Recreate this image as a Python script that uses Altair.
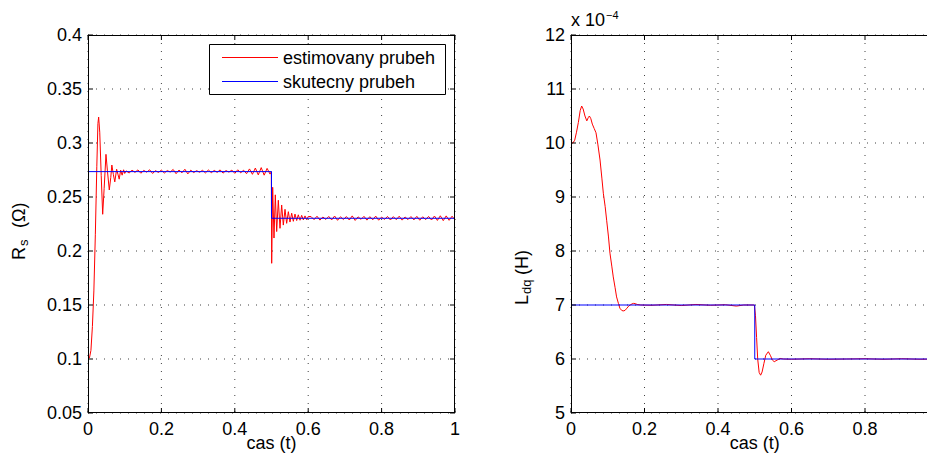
import altair as alt
import pandas as pd

# ---------------- data ----------------
series_names = ["estimovany prubeh", "skutecny prubeh"]
series_colors = ["#ff0000", "#0000ff"]

# left panel: R_s (Ohm), estimated
rs_est_t_start = [0.000, 0.004, 0.008, 0.012, 0.016, 0.020, 0.024, 0.027, 0.029, 0.032,
                  0.036, 0.040, 0.044, 0.049, 0.053, 0.058, 0.062, 0.065, 0.069, 0.073,
                  0.078, 0.082, 0.085, 0.089, 0.093, 0.097, 0.100]
rs_est_v_start = [0.100, 0.101, 0.108, 0.130, 0.163, 0.215, 0.278, 0.318, 0.324, 0.310,
                  0.270, 0.234, 0.258, 0.2895, 0.274, 0.2565, 0.268, 0.2796, 0.271, 0.264,
                  0.2757, 0.2705, 0.2665, 0.2748, 0.2702, 0.2752, 0.2718]
rs_est_t_mid = [0.104, 0.112, 0.120, 0.128, 0.136, 0.144, 0.152, 0.160, 0.168, 0.176,
                0.184, 0.192, 0.200, 0.208, 0.216, 0.224, 0.232, 0.240, 0.248, 0.256,
                0.264, 0.272, 0.280, 0.288, 0.296, 0.304, 0.312, 0.320, 0.328, 0.336,
                0.344, 0.352, 0.360, 0.368, 0.376, 0.384, 0.392, 0.400, 0.408, 0.416,
                0.424, 0.432, 0.440, 0.448, 0.456, 0.464, 0.472, 0.480, 0.488, 0.496]
rs_est_v_mid = [0.2742, 0.2722, 0.2748, 0.2728, 0.2751, 0.2720, 0.2746, 0.2730, 0.2752, 0.2718,
                0.2744, 0.2727, 0.2749, 0.2722, 0.2745, 0.2731, 0.2755, 0.2716, 0.2750, 0.2724,
                0.2757, 0.2714, 0.2748, 0.2726, 0.2744, 0.2729, 0.2747, 0.2723, 0.2750, 0.2725,
                0.2746, 0.2728, 0.2751, 0.2721, 0.2745, 0.2730, 0.2749, 0.2719, 0.2752, 0.2724,
                0.2748, 0.2716, 0.2760, 0.2710, 0.2768, 0.2705, 0.2772, 0.2702, 0.2765, 0.2712]
rs_est_t_step = [0.4995, 0.5005, 0.5032, 0.5068, 0.5104, 0.5141, 0.5186, 0.5232, 0.5277, 0.5322,
                 0.5368, 0.5413, 0.5459, 0.5504, 0.5550, 0.5595, 0.5640, 0.5686, 0.5731, 0.5777,
                 0.5822, 0.5868, 0.5913, 0.5959, 0.6004]
rs_est_v_step = [0.2735, 0.1886, 0.2590, 0.2120, 0.2520, 0.2180, 0.2470, 0.2210, 0.2426, 0.2240,
                 0.2386, 0.2256, 0.2364, 0.2268, 0.2350, 0.2275, 0.2342, 0.2282, 0.2335, 0.2285,
                 0.2330, 0.2288, 0.2325, 0.2290, 0.2320]
rs_est_t_end = [0.608, 0.616, 0.624, 0.632, 0.640, 0.648, 0.656, 0.664, 0.672, 0.680,
                0.688, 0.696, 0.704, 0.712, 0.720, 0.728, 0.736, 0.744, 0.752, 0.760,
                0.768, 0.776, 0.784, 0.792, 0.800, 0.808, 0.816, 0.824, 0.832, 0.840,
                0.848, 0.856, 0.864, 0.872, 0.880, 0.888, 0.896, 0.904, 0.912, 0.920,
                0.928, 0.936, 0.944, 0.952, 0.960, 0.968, 0.976, 0.984, 0.992, 1.000]
rs_est_v_end = [0.2318, 0.2290, 0.2322, 0.2286, 0.2315, 0.2292, 0.2320, 0.2288, 0.2324, 0.2284,
                0.2317, 0.2291, 0.2319, 0.2287, 0.2325, 0.2283, 0.2316, 0.2293, 0.2321, 0.2286,
                0.2318, 0.2289, 0.2323, 0.2285, 0.2314, 0.2292, 0.2320, 0.2287, 0.2318, 0.2290,
                0.2322, 0.2286, 0.2315, 0.2291, 0.2319, 0.2288, 0.2321, 0.2285, 0.2317, 0.2290,
                0.2320, 0.2287, 0.2324, 0.2283, 0.2326, 0.2281, 0.2325, 0.2284, 0.2322, 0.2288]
# left panel: R_s, true
rs_true_t = [0.0, 0.5, 0.5, 1.0]
rs_true_v = [0.2735, 0.2735, 0.2303, 0.2303]

# right panel: L_dq (x 1e-4 H), estimated
ld_est_t = [0.000, 0.005, 0.010, 0.015, 0.020, 0.025, 0.029, 0.033, 0.038, 0.043,
            0.047, 0.050, 0.054, 0.058, 0.063, 0.068, 0.073, 0.079, 0.084, 0.088,
            0.093, 0.097, 0.102, 0.106, 0.111, 0.115, 0.120, 0.124, 0.129, 0.133,
            0.138, 0.142, 0.147, 0.152, 0.157, 0.161, 0.166, 0.170, 0.175, 0.180,
            0.190, 0.220, 0.260, 0.300, 0.340, 0.380, 0.420, 0.450, 0.470, 0.499,
            0.502, 0.505, 0.508, 0.512, 0.516, 0.520, 0.525, 0.530, 0.537, 0.543,
            0.548, 0.553, 0.561, 0.569, 0.578, 0.600, 0.650, 0.700, 0.750, 0.800,
            0.850, 0.900, 0.950, 1.000]
ld_est_v = [10.00, 10.00, 10.05, 10.20, 10.38, 10.60, 10.685, 10.63, 10.50, 10.41,
            10.47, 10.50, 10.45, 10.35, 10.27, 10.19, 9.98, 9.685, 9.35, 9.07,
            8.82, 8.57, 8.26, 7.96, 7.72, 7.52, 7.32, 7.15, 7.03, 6.94,
            6.90, 6.89, 6.90, 6.94, 6.98, 7.00, 7.02, 7.03, 7.025, 7.01,
            7.00, 6.995, 7.01, 6.99, 7.01, 6.995, 7.005, 6.98, 7.00, 7.00,
            6.80, 6.40, 6.00, 5.75, 5.70, 5.76, 5.92, 6.07, 6.135, 6.06,
            5.98, 5.95, 5.98, 6.01, 6.00, 5.995, 6.005, 5.995, 6.00, 6.005,
            5.995, 6.005, 5.995, 6.00]
# right panel: L_dq, true
ld_true_t = [0.0, 0.5, 0.5, 1.0]
ld_true_v = [7.0, 7.0, 6.0, 6.0]

x_ticks = [0, 0.2, 0.4, 0.6, 0.8, 1]
x_tick_labels = ["0", "0.2", "0.4", "0.6", "0.8", "1"]
y_ticks_left = [0.05, 0.1, 0.15, 0.2, 0.25, 0.3, 0.35, 0.4]
y_tick_labels_left = ["0.05", "0.1", "0.15", "0.2", "0.25", "0.3", "0.35", "0.4"]
y_ticks_right = [5, 6, 7, 8, 9, 10, 11, 12]
y_tick_labels_right = ["5", "6", "7", "8", "9", "10", "11", "12"]

x_title = "cas (t)"

# ---------------- layout constants ----------------
FONT = "Liberation Sans"
FS = 18
W, H = 367, 378          # one panel's plot area
RX0 = 483                # left edge of the right panel (relative to left panel)
TOTAL_W = 839            # visible drawing width (right panel cut by the window)
GRID_DASH = [1, 7]

one = pd.DataFrame({"k": [0]})
color_scale = alt.Scale(domain=series_names, range=series_colors)


def frame(t, v, name):
    return pd.DataFrame({"t": t, "v": v, "series": name, "i": list(range(len(t)))})


def txt(text, x, y, size=FS, angle=0, align="left", baseline="alphabetic"):
    kw = dict(text=text, font=FONT, fontSize=size, color="black", align=align, baseline=baseline)
    if angle:
        kw["angle"] = angle
    return alt.Chart(one).mark_text(**kw).encode(x=alt.value(x), y=alt.value(y))


def vrule(x, y0, y1, color="black"):
    return alt.Chart(one).mark_rule(color=color, strokeWidth=1).encode(
        x=alt.value(x), y=alt.value(y0), y2=alt.value(y1))


def hrule(x0, x1, y, color="black"):
    return alt.Chart(one).mark_rule(color=color, strokeWidth=1).encode(
        x=alt.value(x0), x2=alt.value(x1), y=alt.value(y))


def panel_layers(est, true, x_range, ydom, yt, ytl, x0, x1, xt, xtl, right_edge=True):
    xs = alt.Scale(domain=[0, 1], range=x_range, nice=False, zero=False)
    ys = alt.Scale(domain=ydom, nice=False, zero=False)
    X = lambda f: alt.X(f, scale=xs, axis=None)
    Y = lambda f: alt.Y(f, scale=ys, axis=None)
    xt_df = pd.DataFrame({"tick": xt, "label": xtl})
    yt_df = pd.DataFrame({"tick": yt, "label": ytl})
    grid = dict(color="black", strokeWidth=1, strokeDash=GRID_DASH, opacity=0.75)
    tk = dict(color="black", strokeWidth=1)
    layers = [
        # dotted grid
        alt.Chart(xt_df).mark_rule(**grid).encode(x=X("tick:Q"), y=alt.value(0), y2=alt.value(H)),
        alt.Chart(yt_df).mark_rule(**grid).encode(y=Y("tick:Q"), x=alt.value(x0), x2=alt.value(x1)),
        # data
        alt.Chart(est).mark_line(strokeWidth=1, clip=True).encode(
            x=X("t:Q"), y=Y("v:Q"),
            color=alt.Color("series:N", scale=color_scale, legend=None), order="i:Q"),
        alt.Chart(true).mark_line(strokeWidth=1, clip=True).encode(
            x=X("t:Q"), y=Y("v:Q"),
            color=alt.Color("series:N", scale=color_scale, legend=None), order="i:Q"),
        # inward ticks
        alt.Chart(xt_df).mark_rule(**tk).encode(x=X("tick:Q"), y=alt.value(H - 5), y2=alt.value(H)),
        alt.Chart(xt_df).mark_rule(**tk).encode(x=X("tick:Q"), y=alt.value(0), y2=alt.value(5)),
        alt.Chart(yt_df).mark_rule(**tk).encode(y=Y("tick:Q"), x=alt.value(x0), x2=alt.value(x0 + 5)),
        # tick labels
        alt.Chart(xt_df).mark_text(font=FONT, fontSize=FS, color="black", align="center",
                                   baseline="alphabetic").encode(
            x=X("tick:Q"), y=alt.value(H + 22), text="label:N"),
        alt.Chart(yt_df).mark_text(font=FONT, fontSize=FS, color="black", align="right",
                                   baseline="alphabetic", dy=6.4).encode(
            y=Y("tick:Q"), x=alt.value(x0 - 6), text="label:N"),
        # frame
        hrule(x0, x1, 0.5), hrule(x0, x1, H - 0.5), vrule(x0 + 0.5, 0, H),
    ]
    if right_edge:
        layers.append(alt.Chart(yt_df).mark_rule(**tk).encode(
            y=Y("tick:Q"), x=alt.value(x1 - 5), x2=alt.value(x1)))
        layers.append(vrule(x1 - 0.5, 0, H))
    return layers


rs_est = frame(rs_est_t_start + rs_est_t_mid + rs_est_t_step + rs_est_t_end,
               rs_est_v_start + rs_est_v_mid + rs_est_v_step + rs_est_v_end, series_names[0])
rs_true = frame(rs_true_t, rs_true_v, series_names[1])
ld_est = frame(ld_est_t, ld_est_v, series_names[0])
ld_true = frame(ld_true_t, ld_true_v, series_names[1])

left_layers = panel_layers(rs_est, rs_true, [0, W], [0.05, 0.4], y_ticks_left, y_tick_labels_left,
                           0, W, x_ticks, x_tick_labels)
right_layers = panel_layers(ld_est, ld_true, [RX0, RX0 + 367.5], [5, 12], y_ticks_right,
                            y_tick_labels_right, RX0, TOTAL_W, x_ticks[:-1], x_tick_labels[:-1],
                            right_edge=False)

legend_layers = [
    alt.Chart(one).mark_rect(fill="white", stroke="black", strokeWidth=1).encode(
        x=alt.value(121.5), x2=alt.value(357.5), y=alt.value(9.5), y2=alt.value(59.5)),
    hrule(134, 190, 22.5, series_colors[0]),
    hrule(134, 190, 46.5, series_colors[1]),
    txt(series_names[0], 195, 29),
    txt(series_names[1], 195, 53),
]

title_layers = [
    # left y title  R_s (Omega)
    txt("R", -63, 225, angle=270),
    txt("s", -60, 211, size=13, angle=270),
    txt("(Ω)", -63, 193, angle=270),
    txt(x_title, W / 2, 414, align="center"),
    # right y title  L_dq (H)
    txt("L", RX0 - 43, 270, angle=270),
    txt("dq", RX0 - 40, 259, size=13, angle=270),
    txt("(H)", RX0 - 43, 240, angle=270),
    txt("x 10", RX0, -9),
    txt("\u22124", RX0 + 35, -16.5, size=11),
    txt(x_title, RX0 + 367.5 / 2, 414, align="center"),
]

chart = alt.layer(*(left_layers + right_layers + legend_layers + title_layers)).resolve_scale(
    x="independent", y="independent"
).properties(
    width=TOTAL_W, height=H,
    autosize=alt.AutoSizeParams(type="none"),
    padding={"left": 80, "top": 27, "right": 0, "bottom": 40},
    background="white",
).configure_view(stroke="transparent", strokeWidth=0, strokeOpacity=0)

chart.save("out.html", embed_options={"renderer": "svg", "actions": False})
